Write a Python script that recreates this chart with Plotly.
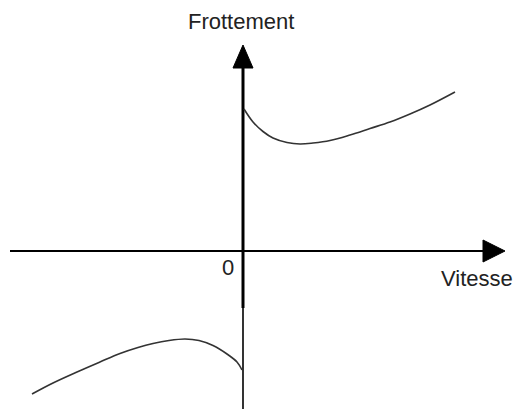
import plotly.graph_objects as go

# Stribeck-type friction curve (velocity, friction) in arbitrary units
v_pos = [0.01, 0.10, 0.20, 0.30, 0.44, 0.57, 0.70, 0.87, 1.07, 1.27, 1.47, 1.67, 1.87, 2.12]
f_pos = [1.42, 1.29, 1.195, 1.13, 1.085, 1.07, 1.08, 1.105, 1.16, 1.225, 1.29, 1.37, 1.46, 1.59]

v_neg = [-2.11, -1.90, -1.66, -1.43, -1.23, -1.05, -0.90, -0.74, -0.58, -0.44, -0.30, -0.16, -0.06, -0.01]
f_neg = [-1.43, -1.32, -1.21, -1.11, -1.025, -0.965, -0.925, -0.895, -0.88, -0.895, -0.945, -1.03, -1.11, -1.19]

x_axis_label = "Vitesse"
y_axis_label = "Frottement"
origin_label = "0"

fig = go.Figure()

# axes
fig.add_trace(go.Scatter(x=[-2.33, 2.42], y=[0, 0], mode="lines",
                         line=dict(color="black", width=2), hoverinfo="skip"))
fig.add_trace(go.Scatter(x=[0, 0], y=[-0.57, 1.85], mode="lines",
                         line=dict(color="black", width=3), hoverinfo="skip"))
fig.add_trace(go.Scatter(x=[0, 0], y=[-1.58, -0.57], mode="lines",
                         line=dict(color="black", width=1.6), hoverinfo="skip"))
# arrow heads
fig.add_trace(go.Scatter(x=[2.40, 2.62, 2.40, 2.40], y=[0.11, 0, -0.11, 0.11],
                         mode="lines", fill="toself", fillcolor="black",
                         line=dict(color="black", width=1), hoverinfo="skip"))
fig.add_trace(go.Scatter(x=[-0.10, 0, 0.10, -0.10], y=[1.83, 2.06, 1.83, 1.83],
                         mode="lines", fill="toself", fillcolor="black",
                         line=dict(color="black", width=1), hoverinfo="skip"))

# curves
fig.add_trace(go.Scatter(x=v_pos, y=f_pos, mode="lines",
                         line=dict(color="#333333", width=1.6, shape="spline", smoothing=1.0),
                         hoverinfo="skip"))
fig.add_trace(go.Scatter(x=v_neg, y=f_neg, mode="lines",
                         line=dict(color="#333333", width=1.6, shape="spline", smoothing=1.0),
                         hoverinfo="skip"))

font = dict(family="Liberation Sans, Arial", size=22, color="#222222")
fig.add_annotation(x=-0.02, y=2.30, text=y_axis_label, showarrow=False, font=font)
fig.add_annotation(x=2.34, y=-0.27, text=x_axis_label, showarrow=False, font=font)
fig.add_annotation(x=-0.15, y=-0.16, text=origin_label, showarrow=False, font=font)

fig.update_layout(
    width=516, height=410,
    margin=dict(l=0, r=0, t=0, b=0),
    paper_bgcolor="white", plot_bgcolor="white",
    showlegend=False,
    xaxis=dict(range=[-2.43, 2.73], visible=False, fixedrange=True),
    yaxis=dict(range=[-1.59, 2.51], visible=False, fixedrange=True),
)

fig.write_html("out.html", config={"displayModeBar": False},
               post_script="document.body.style.margin='0px';")
